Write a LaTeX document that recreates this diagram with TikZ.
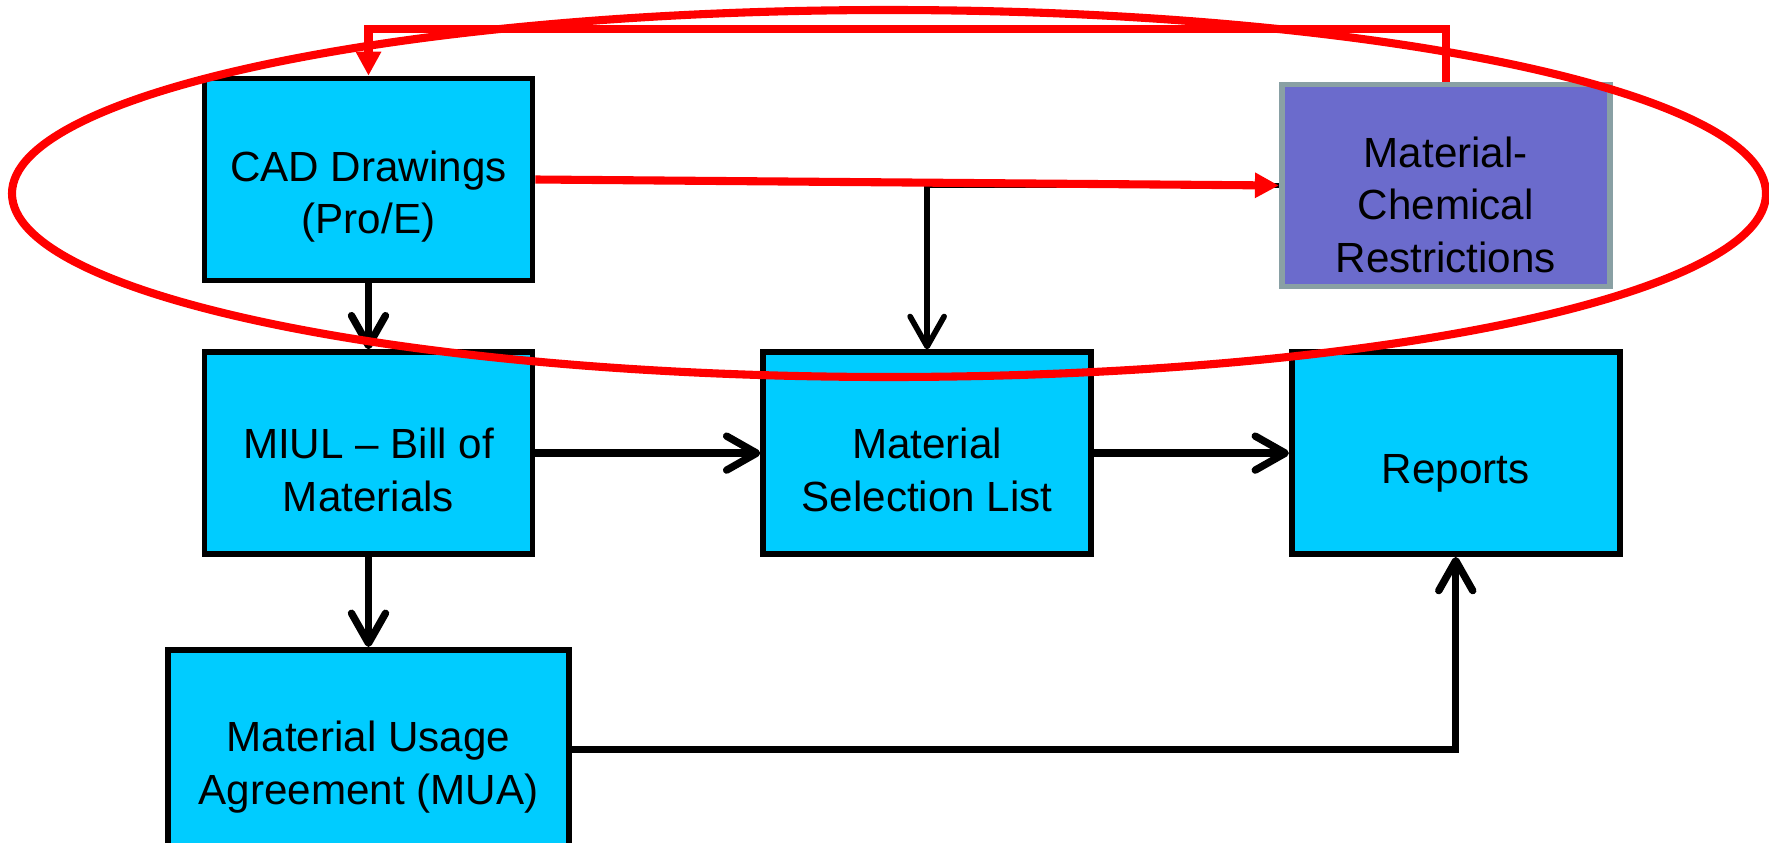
\documentclass[tikz,border=0pt]{standalone}
\usepackage{fontspec}
\setmainfont{Liberation Sans}
\usetikzlibrary{arrows.meta,positioning}

\definecolor{boxcyan}{RGB}{0,204,255}
\definecolor{boxpurple}{RGB}{107,107,204}
\definecolor{boxgrey}{RGB}{137,160,164}

\begin{document}
\begin{tikzpicture}[
        > = {Straight Barb[length=3mm,width=3.4mm,round]}, % open arrow head
        line width = 2.1pt, % connector style
        font = \fontsize{12}{15}\selectfont
    ]

    \tikzstyle{box}=[
        draw = black,
        line width = 1.6pt,
        fill = boxcyan,
        minimum width = 3.28cm,
        minimum height = 2.02cm,
        inner sep = 0pt,
        text height = 33.4pt, % two lines, set a little below the middle
        align = center
    ]
    \tikzstyle{oneline}=[text height = 19.6pt]
    \tikzstyle{threelines}=[text height = 49.6pt]
    \tikzstyle{redarrow}=[
        draw = red,
        line width = 2.3pt,
        -{Triangle[length=2.4mm,width=2.4mm]}
    ]

    \useasboundingbox (0,0) rectangle (17.69,8.42);

    \node[box] (cad) at (3.685,6.625) {CAD Drawings\\(Pro/E)};
    \node[box] (miul) [below=0.66cm of cad] {MIUL – Bill of\\Materials};
    \node[box,minimum width=4.01cm,minimum height=2cm] (mua) [below=0.9cm of miul] {Material Usage\\Agreement (MUA)};
    \node[box] (msl) [right=2.25cm of miul] {Material\\Selection List};
    \node[box,oneline] (rep) [right=1.95cm of msl] {Reports};
    \node[box,threelines,fill=boxpurple,draw=boxgrey] (mcr) [above=0.6cm of rep,xshift=-1mm] {Material-\\Chemical\\Restrictions};

    \draw[->] (cad.south) -- (miul.north);
    \draw[->] (miul.east) -- (msl.west);
    \draw[->] (msl.east) -- (rep.west);
    \draw[->] (miul.south) -- (mua.north);
    \draw[->] (mua.east) -| (rep.south);
    \draw[->,line width=1.6pt] (mcr.west) -| (msl.north);

    \draw[redarrow] (cad.east) -- (mcr.west);
    \draw[redarrow] (mcr.north) -- ++(0,0.53) -| (cad.north);

    % ring round the top row
    \draw[red,line width=2.3pt] (8.89,6.485) ellipse [x radius=8.77cm, y radius=1.835cm];

\end{tikzpicture}
\end{document}
